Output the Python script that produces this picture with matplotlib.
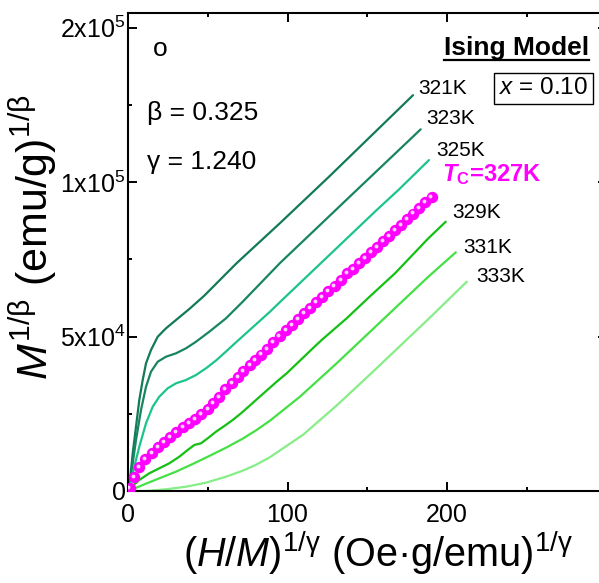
import matplotlib
matplotlib.use("Agg")
import matplotlib.pyplot as plt
from matplotlib.transforms import ScaledTranslation
from matplotlib.lines import Line2D

plt.rcParams['font.family'] = ['Liberation Sans', 'DejaVu Sans']
plt.rcParams['mathtext.fontset'] = 'custom'
plt.rcParams['mathtext.rm'] = 'Liberation Sans'
plt.rcParams['mathtext.it'] = 'Liberation Sans:italic'
plt.rcParams['mathtext.bf'] = 'Liberation Sans:bold'
plt.rcParams['mathtext.bfit'] = 'Liberation Sans:italic:bold'

# ---------------- data ----------------
x_321 = [0, 1.25, 2.95, 5.02, 7.08, 9.22, 11.29, 14.42, 18.62, 23.82, 30.09, 38.43, 47.6,
         68.2, 95.3, 117.2, 126.6, 178.7]
y_321 = [0, 3560, 12200, 20810, 29450, 35920, 41320, 45630, 49930, 52650, 55340, 58900, 63110,
         73780, 86700, 97400, 102000, 128100]

x_323 = [0, 1.25, 2.95, 5.02, 8.15, 11.29, 14.42, 18.62, 23.82, 30.09, 36.36, 42.63, 50.97,
         61.44, 71.91, 95.3, 143.4, 183.5]
y_323 = [0, 3010, 8960, 16500, 26210, 33750, 38610, 41840, 43460, 44560, 46180, 48310, 51550,
         55890, 61260, 73780, 97400, 117050]

x_325 = [0, 1.25, 3.95, 7.08, 11.29, 15.49, 19.62, 24.89, 30.09, 36.36, 42.63, 48.9, 55.17,
         61.44, 67.71, 73.98, 80.25, 89.0, 95.3, 155.9, 169.5, 188.7]
y_325 = [0, 1940, 7860, 14340, 21910, 27280, 30520, 33240, 34850, 35920, 37540, 39710, 42230,
         45140, 48120, 51030, 53940, 58020, 61160, 90930, 97400, 107100]

x_327 = [1.0, 3.95, 7.08, 10.85, 15.05, 18.81, 22.76, 26.52, 30.09, 34.29, 38.43, 42.19,
         45.77, 49.97, 53.48, 57.24, 61.0, 65.2, 68.78, 72.29, 76.49, 79.81, 83.4, 87.1,
         91.1, 95.0, 98.9, 102.8, 106.7, 110.5, 114.3, 118.1, 121.9, 125.7, 129.5, 133.3,
         137.1, 140.9, 144.7, 148.5, 152.3, 156.1, 159.9, 163.7, 167.5, 171.3, 175.1, 178.9,
         182.7, 186.5, 190.3]
y_327 = [900, 4630, 7860, 10260, 12390, 14340, 15950, 17570, 19190, 20610, 21910, 23200,
         24920, 26540, 28380, 30520, 32910, 34850, 36790, 38930, 40770, 42390, 44170, 45950,
         48310, 50150, 52000, 53840, 55680, 57480, 59270, 61070, 62870, 64660, 66460, 68250,
         70500, 71850, 73640, 75440, 77230, 79030, 80830, 82620, 84420, 86210, 88010, 89800,
         91600, 93400, 95190]

x_329 = [0, 1.25, 7.08, 13.35, 19.62, 25.89, 32.16, 37.43, 41.57, 45.77, 49.97, 55.17, 60.38,
         65.64, 70.85, 76.05, 80.25, 93.2, 99.5, 115.2, 121.4, 137.1, 151.7, 167.4, 188.3, 199.2]
y_329 = [0, 870, 3560, 5730, 7350, 8960, 11100, 13270, 14890, 15440, 17050, 19190, 21030,
         22980, 25140, 27510, 29450, 35370, 38090, 45850, 48860, 55890, 63000, 70450, 81770, 87150]

x_331 = [0, 1.88, 9.22, 19.62, 30.09, 40.56, 50.97, 61.44, 71.91, 80.25, 89.0, 107.8, 130.8,
         188.3, 205.5]
y_331 = [0, 320, 1940, 4110, 6250, 8740, 11330, 14010, 16940, 19610, 22760, 30520, 41320,
         69350, 77240]

x_333 = [0, 11.29, 23.82, 36.36, 48.9, 61.44, 71.91, 80.25, 89.0, 109.9, 130.8, 151.7, 173.7,
         188.3, 212.4]
y_333 = [0, 0, 550, 1390, 2690, 4630, 6570, 8490, 10940, 18260, 27670, 37700, 48480,
         55630, 67730]

temps = ['321K', '323K', '325K', '329K', '331K', '333K']
colors = ['#127a58', '#17855f', '#1cc48c', '#14c014', '#44e044', '#86ee86']

x_ticks = [0, 100, 200]
x_ticklabels = ['0', '100', '200']
y_ticks = [0, 5e4, 1e5, 1.5e5]
y_ticklabels = ['0', r'5x10$^{4}$', r'1x10$^{5}$', r'2x10$^{5}$']

# ---------------- figure ----------------
W, H = 599, 583
fig = plt.figure(figsize=(W / 100, H / 100), dpi=100)
L, R, T, B = 128, 606.5, 13, 491
ax = fig.add_axes([L / W, 1 - B / H, (R - L) / W, (B - T) / H])
ax.set_xlim(0, 300)
ax.set_ylim(0, 1.547e5)

series = [(x_321, y_321), (x_323, y_323), (x_325, y_325),
          (x_329, y_329), (x_331, y_331), (x_333, y_333)]
for (xs, ys), c in zip(series, colors):
    ax.plot(xs, ys, color=c, lw=1.6, solid_joinstyle='round', solid_capstyle='round', zorder=2)

ax.plot(x_327, y_327, 'o', ms=7.2, color='#ff00ff', mec='#ff00ff', zorder=3)
hl = ax.transData + ScaledTranslation(-0.8 / 72, 0.8 / 72, fig.dpi_scale_trans)
ax.plot(x_327, y_327, 'o', ms=2.8, color='#ffd0ff', mec='none', transform=hl, zorder=4)

for s in ax.spines.values():
    s.set_linewidth(1.5)
ax.set_xticks(x_ticks)
ax.set_xticklabels(x_ticklabels)
ax.set_yticks(y_ticks)
ax.set_yticklabels(y_ticklabels)
ax.set_xticks([50, 150, 250], minor=True)
ax.set_yticks([2.5e4, 7.5e4, 1.25e5], minor=True)
ax.tick_params(which='both', direction='in', top=True, right=True, width=1.4)
ax.tick_params(which='major', length=6.5)
ax.tick_params(which='minor', length=3.2)
ax.tick_params(axis='x', labelsize=18, pad=9)
ax.tick_params(axis='y', labelsize=18, pad=1.5)

def ftext(px, py, s, **kw):
    return fig.text(px / W, 1 - py / H, s, **kw)

ftext(33, 237, r'$M^{\mathrm{1/β}}$ (emu/g)$^{\mathrm{1/β}}$', rotation=90,
      ha='center', va='center', fontsize=31)
ftext(378, 553, r'($\mathit{H}$/$\mathit{M}$)$^{\mathrm{1/γ}}$ (Oe·g/emu)$^{\mathrm{1/γ}}$',
      ha='center', va='center', fontsize=28.5)

ftext(160, 49, 'o', ha='center', va='center', fontsize=19)
ftext(147, 113, 'β = 0.325', ha='left', va='center', fontsize=19)
ftext(147, 162, 'γ = 1.240', ha='left', va='center', fontsize=19)
ising = ftext(589, 48, 'Ising Model', ha='right', va='center', fontsize=19, fontweight='bold')
ftext(543.5, 88.5, r'$x$ = 0.10', ha='center', va='center', fontsize=17.5,
      bbox=dict(boxstyle='square,pad=0.2', fc='white', ec='black', lw=1.0))

label_pos = [(418, 89), (426, 119), (436, 150), (452, 212.5), (463, 247.5), (476, 277)]
for t, (px, py) in zip(temps, label_pos):
    ftext(px, py, t, ha='left', va='center', fontsize=15)
ftext(442, 175, r'$\mathbfit{T}_{\mathbf{C}}$=327K', ha='left', va='center', fontsize=17,
      fontweight='bold', color='#ff00ff')

# underline for "Ising Model"
fig.canvas.draw()
bb = ising.get_window_extent(renderer=fig.canvas.get_renderer()).transformed(fig.transFigure.inverted())
uy = 1 - 59.5 / H
fig.add_artist(Line2D([bb.x0, bb.x1], [uy, uy], color='black', lw=1.6, transform=fig.transFigure))

fig.savefig('out.png', dpi=100)
